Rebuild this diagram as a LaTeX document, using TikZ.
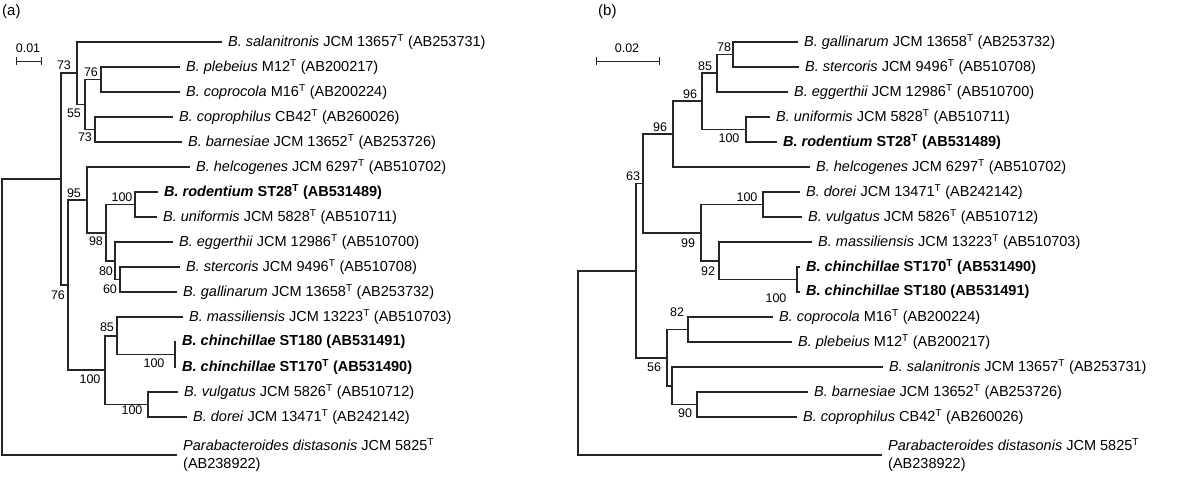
\documentclass[tikz,border=0pt]{standalone}
\usepackage{fontspec}
\setmainfont{Liberation Sans}
\begin{document}
\begin{tikzpicture}[x=1pt,y=-1pt,
  br/.style={line width=1.2pt,color=black!85},
  leaf/.style={anchor=west,inner xsep=6pt,inner ysep=0pt,font=\fontsize{14.5}{17.5}\selectfont},
  bs/.style={font=\fontsize{12.5}{14}\selectfont,inner sep=0pt},
  pl/.style={font=\fontsize{15}{17}\selectfont,inner sep=0pt,anchor=north west}]
\useasboundingbox (0,0) rectangle (1200,477);
\newcommand{\T}{\textsuperscript{T}}
\node[pl] (pa) at (2,4) {(a)};
\node[pl] (pb) at (598,4) {(b)};
% scale bars
\node[bs] (sa) at (28,48) {0.01};
\coordinate (sa1) at (16,61); \coordinate (sa2) at (41,61);
\draw[br,line width=1pt] (sa1) -- (sa2); \draw[br,line width=1pt] (16,57) -- (16,65) (41,57) -- (41,65);
\node[bs] (sb) at (627,48) {0.02};
\coordinate (sb1) at (596,61); \coordinate (sb2) at (659,61);
\draw[br,line width=1pt] (sb1) -- (sb2); \draw[br,line width=1pt] (596,57) -- (596,65) (659,57) -- (659,65);

% ---------- panel a ----------
\node[leaf] (a1) at (222,42) {\textit{B. salanitronis} JCM 13657\T{} (AB253731)};
\node[leaf] (a2) at (180,67) {\textit{B. plebeius} M12\T{} (AB200217)};
\node[leaf] (a3) at (180,92) {\textit{B. coprocola} M16\T{} (AB200224)};
\node[leaf] (a4) at (173,117) {\textit{B. coprophilus} CB42\T{} (AB260026)};
\node[leaf] (a5) at (182,142) {\textit{B. barnesiae} JCM 13652\T{} (AB253726)};
\node[leaf] (a6) at (190,167) {\textit{B. helcogenes} JCM 6297\T{} (AB510702)};
\node[leaf] (a7) at (158,192) {\textbf{\textit{B. rodentium} ST28\T{} (AB531489)}};
\node[leaf] (a8) at (157,217) {\textit{B. uniformis} JCM 5828\T{} (AB510711)};
\node[leaf] (a9) at (173,242) {\textit{B. eggerthii} JCM 12986\T{} (AB510700)};
\node[leaf] (a10) at (180,267) {\textit{B. stercoris} JCM 9496\T{} (AB510708)};
\node[leaf] (a11) at (177,292) {\textit{B. gallinarum} JCM 13658\T{} (AB253732)};
\node[leaf] (a12) at (183,317) {\textit{B. massiliensis} JCM 13223\T{} (AB510703)};
\node[leaf] (a13) at (176,342) {\textbf{\textit{B. chinchillae} ST180 (AB531491)}};
\node[leaf] (a14) at (176,367) {\textbf{\textit{B. chinchillae} ST170\T{} (AB531490)}};
\node[leaf] (a15) at (178,392) {\textit{B. vulgatus} JCM 5826\T{} (AB510712)};
\node[leaf] (a16) at (187,417) {\textit{B. dorei} JCM 13471\T{} (AB242142)};
\node[leaf,align=left] (a17) at (177,455) {\textit{Parabacteroides distasonis} JCM 5825\T\\(AB238922)};

\coordinate (aE) at (101,79.5);
\coordinate (aF) at (95,129.5);
\coordinate (aD) at (85,104.5);
\coordinate (aB) at (77,73);
\coordinate (aJ) at (135,204.5);
\coordinate (aL) at (120,279.5);
\coordinate (aK) at (115,261);
\coordinate (aI) at (106,233);
\coordinate (aG) at (87,200);
\coordinate (aN) at (175,354.5);
\coordinate (aM) at (117,336);
\coordinate (aO) at (148,404.5);
\coordinate (aH) at (105,370);
\coordinate (aC) at (68,285);
\coordinate (aA) at (61,179);
\coordinate (aR) at (2,317);

\draw[br] (aE) |- (a2.west) (aE) |- (a3.west);
\draw[br] (aF) |- (a4.west) (aF) |- (a5.west);
\draw[br] (aD) |- (aE) (aD) |- (aF);
\draw[br] (aB) |- (a1.west) (aB) |- (aD);
\draw[br] (aJ) |- (a7.west) (aJ) |- (a8.west);
\draw[br] (aL) |- (a10.west) (aL) |- (a11.west);
\draw[br] (aK) |- (a9.west) (aK) |- (aL);
\draw[br] (aI) |- (aJ) (aI) |- (aK);
\draw[br] (aG) |- (a6.west) (aG) |- (aI);
\draw[br] (aN) |- (a13.west) (aN) |- (a14.west);
\draw[br] (aM) |- (a12.west) (aM) |- (aN);
\draw[br] (aO) |- (a15.west) (aO) |- (a16.west);
\draw[br] (aH) |- (aM) (aH) |- (aO);
\draw[br] (aC) |- (aG) (aC) |- (aH);
\draw[br] (aA) |- (aB) (aA) |- (aC);
\draw[br] (aR) |- (aA) (aR) |- (a17.west);

\node[bs] (ab1) at (64,65) {73};
\node[bs] (ab2) at (91,72) {76};
\node[bs] (ab3) at (74,113) {55};
\node[bs] (ab4) at (85,137) {73};
\node[bs] (ab5) at (74,193) {95};
\node[bs] (ab6) at (122,197) {100};
\node[bs] (ab7) at (96,241) {98};
\node[bs] (ab8) at (106,271) {80};
\node[bs] (ab9) at (110,289) {60};
\node[bs] (ab10) at (58,295) {76};
\node[bs] (ab11) at (107,327) {85};
\node[bs] (ab12) at (154,363) {100};
\node[bs] (ab13) at (90,379) {100};
\node[bs] (ab14) at (132,410) {100};

% ---------- panel b ----------
\node[leaf] (b1) at (798,42) {\textit{B. gallinarum} JCM 13658\T{} (AB253732)};
\node[leaf] (b2) at (799,67) {\textit{B. stercoris} JCM 9496\T{} (AB510708)};
\node[leaf] (b3) at (788,92) {\textit{B. eggerthii} JCM 12986\T{} (AB510700)};
\node[leaf] (b4) at (770,117) {\textit{B. uniformis} JCM 5828\T{} (AB510711)};
\node[leaf] (b5) at (777,142) {\textbf{\textit{B. rodentium} ST28\T{} (AB531489)}};
\node[leaf] (b6) at (810,167) {\textit{B. helcogenes} JCM 6297\T{} (AB510702)};
\node[leaf] (b7) at (800,192) {\textit{B. dorei} JCM 13471\T{} (AB242142)};
\node[leaf] (b8) at (802,217) {\textit{B. vulgatus} JCM 5826\T{} (AB510712)};
\node[leaf] (b9) at (812,242) {\textit{B. massiliensis} JCM 13223\T{} (AB510703)};
\node[leaf] (b10) at (800,267) {\textbf{\textit{B. chinchillae} ST170\T{} (AB531490)}};
\node[leaf] (b11) at (800,292) {\textbf{\textit{B. chinchillae} ST180 (AB531491)}};
\node[leaf] (b12) at (773,317) {\textit{B. coprocola} M16\T{} (AB200224)};
\node[leaf] (b13) at (792,342) {\textit{B. plebeius} M12\T{} (AB200217)};
\node[leaf] (b14) at (883,367) {\textit{B. salanitronis} JCM 13657\T{} (AB253731)};
\node[leaf] (b15) at (808,392) {\textit{B. barnesiae} JCM 13652\T{} (AB253726)};
\node[leaf] (b16) at (797,417) {\textit{B. coprophilus} CB42\T{} (AB260026)};
\node[leaf,align=left] (b17) at (882,455) {\textit{Parabacteroides distasonis} JCM 5825\T\\(AB238922)};

\coordinate (bE) at (733,54.5);
\coordinate (bD) at (717,73);
\coordinate (bF) at (746,129.5);
\coordinate (bC) at (702,101);
\coordinate (bB) at (673,134);
\coordinate (bH) at (763,204.5);
\coordinate (bJ) at (797,279.5);
\coordinate (bI) at (719,261);
\coordinate (bG) at (701,233);
\coordinate (bA) at (643,183.5);
\coordinate (bL) at (688,329.5);
\coordinate (bN) at (697,404.5);
\coordinate (bM) at (672,386);
\coordinate (bK) at (667,358);
\coordinate (bR) at (636,271);
\coordinate (bR0) at (578,362);

\draw[br] (bE) |- (b1.west) (bE) |- (b2.west);
\draw[br] (bD) |- (bE) (bD) |- (b3.west);
\draw[br] (bF) |- (b4.west) (bF) |- (b5.west);
\draw[br] (bC) |- (bD) (bC) |- (bF);
\draw[br] (bB) |- (bC) (bB) |- (b6.west);
\draw[br] (bH) |- (b7.west) (bH) |- (b8.west);
\draw[br] (bJ) |- (b10.west) (bJ) |- (b11.west);
\draw[br] (bI) |- (b9.west) (bI) |- (bJ);
\draw[br] (bG) |- (bH) (bG) |- (bI);
\draw[br] (bA) |- (bB) (bA) |- (bG);
\draw[br] (bL) |- (b12.west) (bL) |- (b13.west);
\draw[br] (bN) |- (b15.west) (bN) |- (b16.west);
\draw[br] (bM) |- (b14.west) (bM) |- (bN);
\draw[br] (bK) |- (bL) (bK) |- (bM);
\draw[br] (bR) |- (bA) (bR) |- (bK);
\draw[br] (bR0) |- (bR) (bR0) |- (b17.west);

\node[bs] (bb1) at (633,176) {63};
\node[bs] (bb2) at (660,127) {96};
\node[bs] (bb3) at (690,94) {96};
\node[bs] (bb4) at (705,66) {85};
\node[bs] (bb5) at (724,47) {78};
\node[bs] (bb6) at (729,138) {100};
\node[bs] (bb7) at (688,243) {99};
\node[bs] (bb8) at (747,197) {100};
\node[bs] (bb9) at (708,271) {92};
\node[bs] (bb10) at (776,298) {100};
\node[bs] (bb11) at (654,367) {56};
\node[bs] (bb12) at (677,312) {82};
\node[bs] (bb13) at (685,413) {90};
\end{tikzpicture}
\end{document}
